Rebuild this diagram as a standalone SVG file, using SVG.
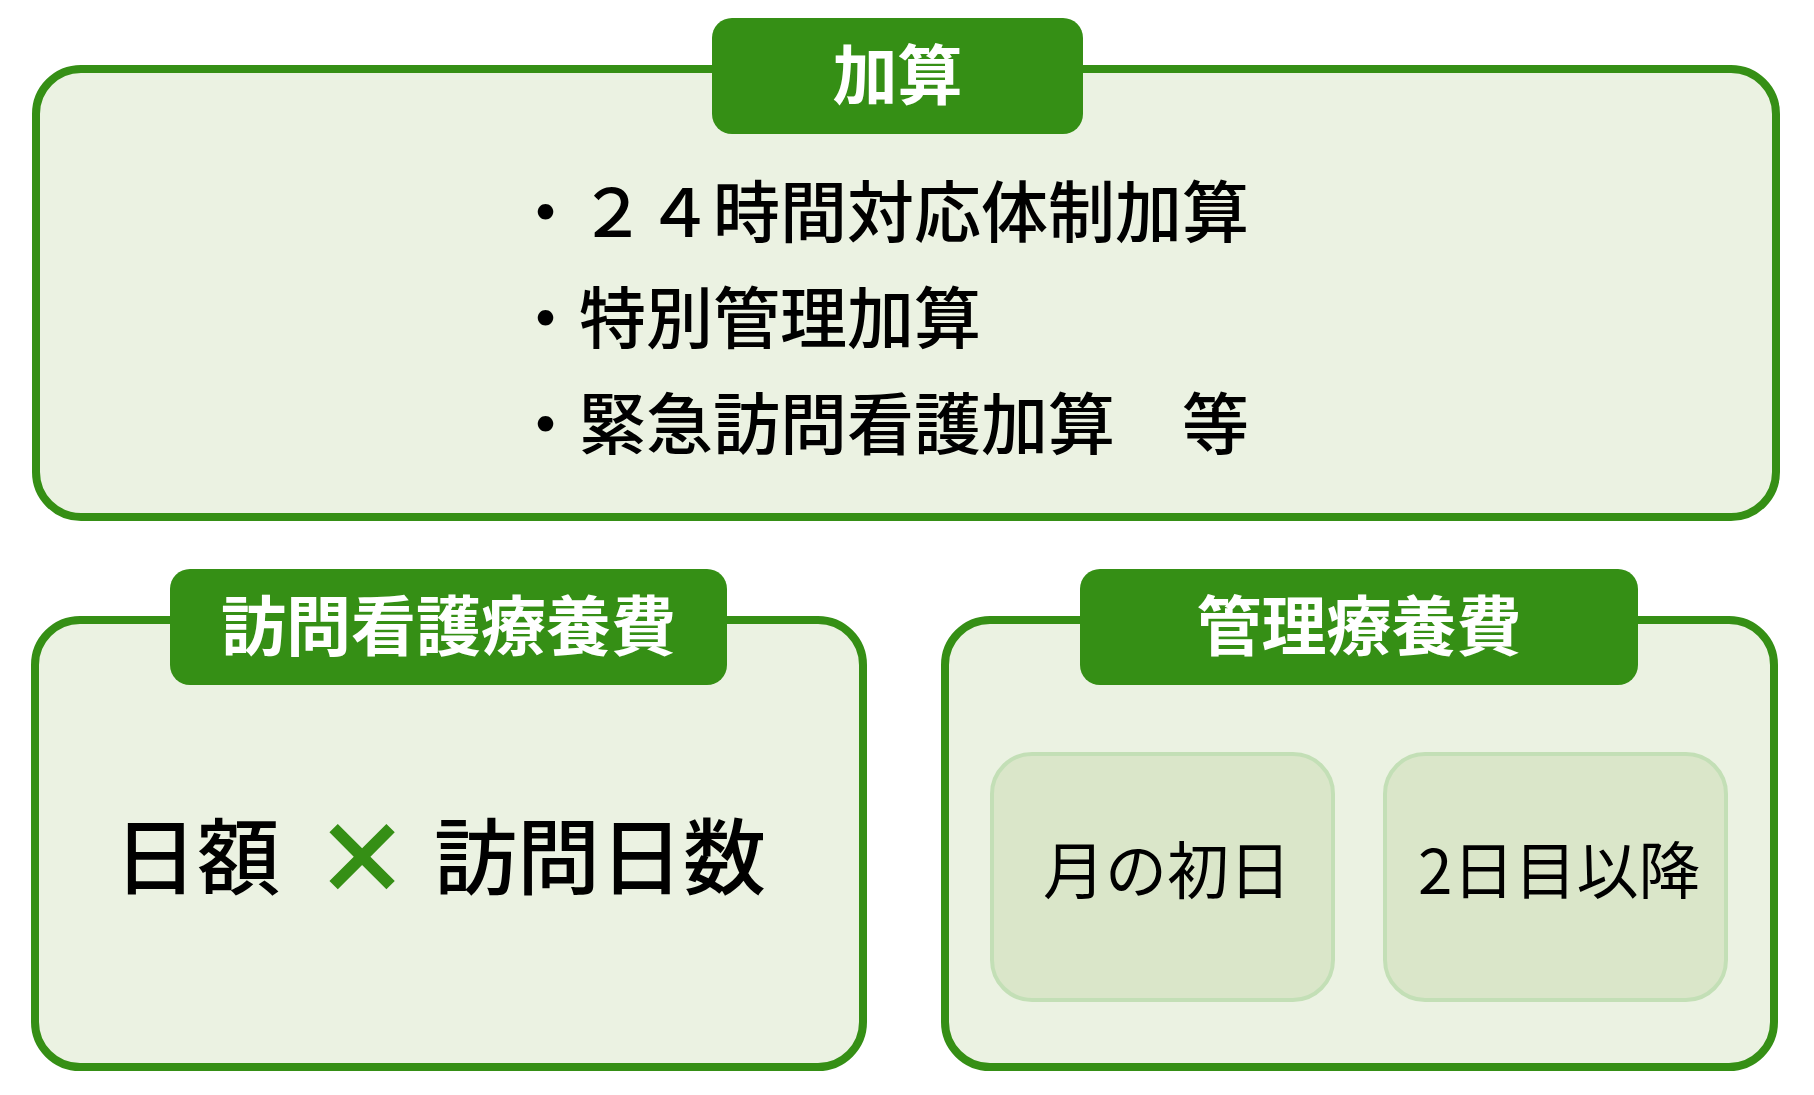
<svg xmlns="http://www.w3.org/2000/svg" width="1814" height="1095" viewBox="0 0 1814 1095">
<style>
.panel{fill:#ebf2e2;stroke:#358f15;stroke-width:8}
.tab{fill:#358f15}
.tabtxt{font-family:"Noto Sans CJK JP","Noto Sans",sans-serif;font-size:65px;font-weight:700;fill:#ffffff;text-anchor:middle}
.item{font-family:"Noto Sans CJK JP","Noto Sans",sans-serif;font-size:67px;font-weight:500;fill:#000000}
.big{font-family:"Noto Sans CJK JP","Noto Sans",sans-serif;font-size:83px;font-weight:500;fill:#000000}
.times{font-family:"Noto Sans CJK JP","Noto Sans",sans-serif;font-size:98px;font-weight:900;fill:#358f15;text-anchor:middle}
.sub{fill:#dae6c9;stroke:#c3dfb6;stroke-width:4}
.subtxt{font-family:"Noto Sans CJK JP","Noto Sans",sans-serif;font-size:62px;font-weight:400;fill:#000000}
</style>
<rect width="1814" height="1095" fill="#ffffff"/>
<g id="kasan">
<rect class="panel" x="36" y="69" width="1740" height="448" rx="45"/>
<rect class="tab" x="712" y="18" width="371" height="116" rx="20"/>
<text class="tabtxt" x="897.5" y="99">加算</text>
<text class="item" x="512" y="237">・２４時間対応体制加算</text>
<text class="item" x="512" y="343">・特別管理加算</text>
<text class="item" x="512" y="449">・緊急訪問看護加算　等</text>
</g>
<g id="houmon">
<rect class="panel" x="35" y="620" width="828" height="447" rx="45"/>
<rect class="tab" x="170" y="569" width="557" height="116" rx="20"/>
<text class="tabtxt" x="448.5" y="650">訪問看護療養費</text>
<text class="big" x="114" y="888">日額</text>
<text class="times" x="362" y="894">×</text>
<text class="big" x="434" y="888">訪問日数</text>
</g>
<g id="kanri">
<rect class="panel" x="945" y="620" width="829" height="447" rx="45"/>
<rect class="tab" x="1080" y="569" width="558" height="116" rx="20"/>
<text class="tabtxt" x="1359" y="650">管理療養費</text>
<g id="shonichi">
<rect class="sub" x="992" y="754" width="341" height="246" rx="40"/>
<text class="subtxt" x="1043" y="894">月の初日</text>
</g>
<g id="futsukame">
<rect class="sub" x="1385" y="754" width="341" height="246" rx="40"/>
<text class="subtxt" x="1418" y="894">2日目以降</text>
</g>
</g>
<g id="connectors"></g>
</svg>
